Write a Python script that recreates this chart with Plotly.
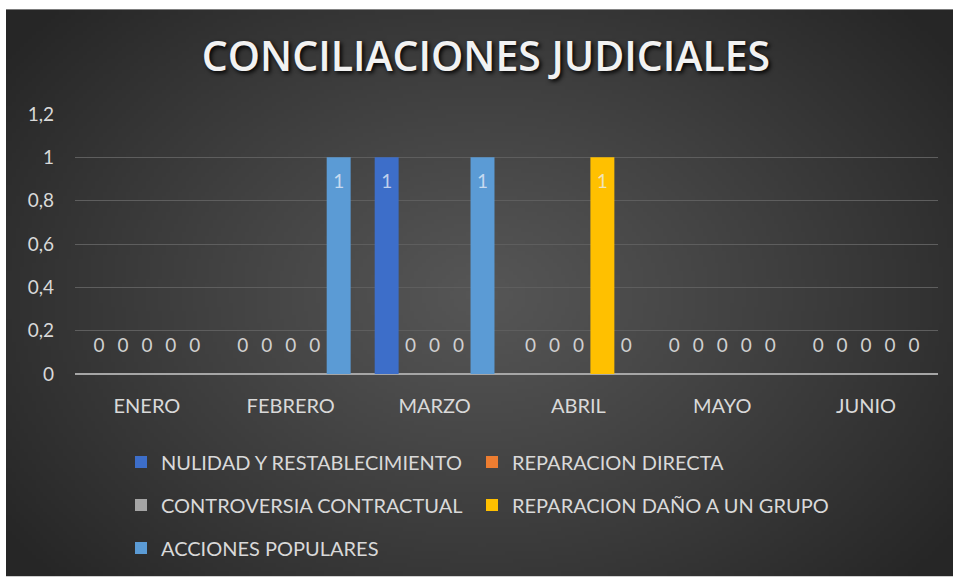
import base64, struct, zlib
import numpy as np
import plotly.graph_objects as go

# ---------------- data ----------------
months = ["ENERO", "FEBRERO", "MARZO", "ABRIL", "MAYO", "JUNIO"]
nulidad = [0, 0, 1, 0, 0, 0]
reparacion_directa = [0, 0, 0, 0, 0, 0]
controversia = [0, 0, 0, 0, 0, 0]
reparacion_grupo = [0, 0, 0, 1, 0, 0]
acciones_populares = [0, 1, 1, 0, 0, 0]

series_names = ["NULIDAD Y RESTABLECIMIENTO", "REPARACION DIRECTA",
                "CONTROVERSIA CONTRACTUAL", "REPARACION DAÑO A UN GRUPO",
                "ACCIONES POPULARES"]
series_values = [nulidad, reparacion_directa, controversia, reparacion_grupo, acciones_populares]
series_colors = ["#3d6ec9", "#ed7d31", "#a5a5a5", "#ffc000", "#5b9bd5"]

title_text = "CONCILIACIONES JUDICIALES"
y_ticks = [0, 0.2, 0.4, 0.6, 0.8, 1, 1.2]

# ---------------- geometry (page pixel coords) ----------------
W, H = 953, 578
PLOT_L, PLOT_R, PLOT_T, PLOT_B = 75, 938, 114, 375
ML, MR, MT, MB = PLOT_L, W - PLOT_R, PLOT_T, H - PLOT_B
PW, PH = PLOT_R - PLOT_L, PLOT_B - PLOT_T


def px_x(p):
    return (p - PLOT_L) / PW


def px_y(p):
    return (PLOT_B - p) / PH


# legend slots: (text-start x, row centre y) in pixels
legend_slots = [(162, 462), (513, 462), (162, 505), (513, 505), (162, 548)]
legend_ids = ["legend", "legend2", "legend3", "legend4", "legend5"]


# ---------------- radial gradient background as PNG ----------------
def gradient_png(w, h):
    yy, xx = np.mgrid[0:h, 0:w]
    cx, cy = w * 0.5, h * 0.5
    r = np.sqrt(((xx - cx) / (w * 0.62)) ** 2 + ((yy - cy) / (h * 0.75)) ** 2)
    r = np.clip(r, 0, 1)
    c0, c1 = 86.0, 38.0
    v = (c0 + (c1 - c0) * r ** 1.1).astype(np.uint8)
    rgb = np.stack([v, v, v], axis=-1)
    raw = b"".join(b"\x00" + rgb[i].tobytes() for i in range(h))

    def chunk(t, d):
        c = struct.pack(">I", len(d)) + t + d
        return c + struct.pack(">I", zlib.crc32(t + d) & 0xffffffff)
    png = b"\x89PNG\r\n\x1a\n" + chunk(b"IHDR", struct.pack(">IIBBBBB", w, h, 8, 2, 0, 0, 0))
    png += chunk(b"IDAT", zlib.compress(raw, 9)) + chunk(b"IEND", b"")
    return "data:image/png;base64," + base64.b64encode(png).decode()


bg = gradient_png(240, 144)

FONT = "Lato"
LBL = 19
BASE = 12
fig = go.Figure()
for name, vals, col, lg in zip(series_names, series_values, series_colors, legend_ids):
    tpos = ["inside" if v > 0 else "outside" for v in vals]
    ttemp = [f" <br><span style='font-size:{LBL}px'>%{{y}}</span>" if v > 0
             else f"<span style='font-size:{LBL}px'>%{{y}}</span><br> " for v in vals]
    tcol = ["rgba(235,240,250,0.75)" if v > 0 else "#d0d0d0" for v in vals]
    fig.add_trace(go.Bar(
        x=months, y=vals, name=name, marker=dict(color=col, line=dict(width=0)),
        texttemplate=ttemp, textposition=tpos, insidetextanchor="end",
        textfont=dict(color=tcol, size=BASE, family=FONT),
        outsidetextfont=dict(color="#d0d0d0", size=BASE, family=FONT),
        insidetextfont=dict(color=tcol, size=BASE, family=FONT),
        cliponaxis=False, legend=lg, hoverinfo="x+y+name",
    ))

legend_common = dict(orientation="h", font=dict(color="#d9d9d9", size=20, family=FONT),
                     bgcolor="rgba(0,0,0,0)", xanchor="left", yanchor="middle", itemclick=False)
legends = {lid: dict(legend_common, x=px_x(tx - 41), y=px_y(ty))
           for lid, (tx, ty) in zip(legend_ids, legend_slots)}

fig.update_layout(
    width=W, height=H,
    margin=dict(l=ML, r=MR, t=MT, b=MB, pad=0),
    paper_bgcolor="white", plot_bgcolor="rgba(0,0,0,0)",
    separators=", ",
    barmode="group", bargap=0.167, bargroupgap=0,
    title=dict(text=title_text, x=486 / W, xanchor="center",
               y=1 - 57 / H, yanchor="middle",
               font=dict(family="Open Sans", size=41, weight=600, color="#f2f2f2",
                         shadow="2px 2px 4px black")),
    xaxis=dict(showgrid=False, tickfont=dict(color="#d9d9d9", size=20, family=FONT),
               ticks="", ticklabelstandoff=18, showline=False),
    yaxis=dict(range=[0, 1.2], tickvals=y_ticks, showgrid=True, gridcolor="#5e5e5e", gridwidth=1,
               zeroline=True, zerolinecolor="#a6a6a6", zerolinewidth=2,
               tickfont=dict(color="#d9d9d9", size=19, family=FONT), ticklabelstandoff=20,
               showline=False),
    images=[dict(source=bg, xref="paper", yref="paper", x=px_x(6), y=px_y(9),
                 sizex=(W - 6) / PW, sizey=(H - 9) / PH, xanchor="left", yanchor="top",
                 sizing="stretch", layer="below")],
    showlegend=True,
    **legends,
)

fig.write_html("out.html", config={"displayModeBar": False},
               post_script="document.body.style.margin='0';document.body.style.overflow='hidden';")
